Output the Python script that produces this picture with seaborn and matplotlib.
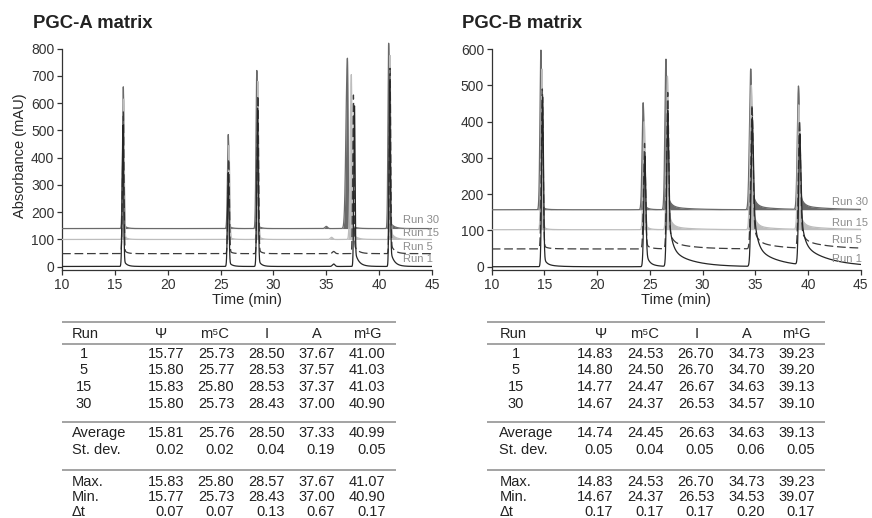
import numpy as np
import pandas as pd
import matplotlib
matplotlib.use("Agg")
import matplotlib.pyplot as plt
import seaborn as sns

# ---------------- data ----------------
runs = ["Run 1", "Run 5", "Run 15", "Run 30"]
run_numbers = ["1", "5", "15", "30"]
compounds = ["Ψ", "m⁵C", "I", "A", "m¹G"]
stat_labels_1 = ["Average", "St. dev."]
stat_labels_2 = ["Max.", "Min.", "Δt"]

# ---- PGC-A matrix ----
rt_a_run1 = [15.77, 25.73, 28.50, 37.67, 41.00]
rt_a_run5 = [15.80, 25.77, 28.53, 37.57, 41.03]
rt_a_run15 = [15.83, 25.80, 28.53, 37.37, 41.03]
rt_a_run30 = [15.80, 25.73, 28.43, 37.00, 40.90]
apex_a_run1 = [520, 345, 582, 590, 682]
apex_a_run5 = [568, 395, 628, 630, 728]
apex_a_run15 = [615, 445, 680, 705, 775]
apex_a_run30 = [660, 485, 720, 765, 820]
offset_a = [1, 48, 100, 140]
minor_rt_a = [35.7, 35.7, 35.5, 35.0]
minor_h_a = [9, 8, 8, 8]
avg_a = [15.81, 25.76, 28.50, 37.33, 40.99]
sd_a = [0.02, 0.02, 0.04, 0.19, 0.05]
max_a = [15.83, 25.80, 28.57, 37.67, 41.07]
min_a = [15.77, 25.73, 28.43, 37.00, 40.90]
dt_a = [0.07, 0.07, 0.13, 0.67, 0.17]

# ---- PGC-B matrix ----
rt_b_run1 = [14.83, 24.53, 26.70, 34.73, 39.23]
rt_b_run5 = [14.80, 24.50, 26.70, 34.70, 39.20]
rt_b_run15 = [14.77, 24.47, 26.67, 34.63, 39.13]
rt_b_run30 = [14.67, 24.37, 26.53, 34.57, 39.10]
apex_b_run1 = [468, 305, 430, 410, 360]
apex_b_run5 = [490, 340, 480, 445, 400]
apex_b_run15 = [545, 400, 525, 500, 445]
apex_b_run30 = [597, 452, 572, 545, 497]
offset_b = [0, 49, 102, 157]
avg_b = [14.74, 24.45, 26.63, 34.63, 39.13]
sd_b = [0.05, 0.04, 0.05, 0.06, 0.05]
max_b = [14.83, 24.53, 26.70, 34.73, 39.23]
min_b = [14.67, 24.37, 26.53, 34.53, 39.07]
dt_b = [0.17, 0.17, 0.17, 0.20, 0.17]

# peak shape parameters (min)
sig_left_a = [0.075, 0.075, 0.075, 0.065, 0.065]
front_a = [1.0, 1.0, 1.6, 2.1]          # fronting of peak A per run
sig_right_a = [0.06, 0.065, 0.065, 0.05, 0.06]
tail_f_a = [0.05, 0.05, 0.05, 0.08, 0.08]
tail_tau_a = [0.25, 0.25, 0.25, 0.3, 0.3]
slow_a = [3, 3, 3, 18, 18]
slow_tau_a = [0.5, 0.5, 0.5, 0.5, 0.5]
tail_scale_a = [1.0, 0.6, 0.5, 0.5]

sig_left_b = [0.09, 0.1, 0.1, 0.12, 0.11]
front_b = [1.0, 1.0, 1.0, 1.0]
sig_right_b = [0.08, 0.09, 0.09, 0.1, 0.1]
tail_f_b = [0.06, 0.15, 0.32, 0.45, 0.4]
tail_tau_b = [0.25, 0.25, 0.3, 0.3, 0.3]
slow_b = [8, 12, 52, 60, 60]
slow_tau_b = [1.0, 0.8, 2.0, 2.0, 2.5]
tail_scale_b = [1.0, 0.4, 0.4, 0.4]
slow_scale_b = [1.0, 0.4, 0.18, 0.18]

run_colors = ["#262626", "#3c3c3c", "#bdbdbd", "#6a6a6a"]
label_y_a = [28, 72, 123, 171]
label_y_b = [20, 75, 121, 179]

t = np.linspace(10, 45, 7001)


def trace(base, rts, apexes, sl, sr, tf, ttau, slow, stau, scale, sscale, front_idx=None,
          front=1.0, minor=None):
    y = np.full_like(t, float(base))
    for k, (rt, h) in enumerate(zip(rts, apexes)):
        d = t - rt
        s_l = sl[k] * (front if k == front_idx else 1.0)
        left = np.exp(-0.5 * (d / s_l) ** 2)
        dp = np.clip(d, 0, None)
        f = tf[k] * scale
        sa = slow[k] * sscale
        amp = h - base - sa
        right = (1 - f) * np.exp(-0.5 * (dp / sr[k]) ** 2) + f * np.exp(-dp / ttau[k])
        y += amp * np.where(d < 0, left, right)
        y += sa * np.where(d < 0, left, np.exp(-dp / stau[k]))
    if minor is not None:
        y += minor[1] * np.exp(-0.5 * ((t - minor[0]) / 0.12) ** 2)
    return y


sns.set_theme(style="ticks")
plt.rcParams["font.family"] = ["Liberation Sans", "DejaVu Sans"]
plt.rcParams["axes.edgecolor"] = "#333333"
plt.rcParams["xtick.color"] = "#333333"
plt.rcParams["ytick.color"] = "#333333"
plt.rcParams["text.color"] = "#222222"

fig = plt.figure(figsize=(8.72, 5.18), dpi=100)

# overlay for tables (pixel coordinates)
axt = fig.add_axes([0, 0, 1, 1])
axt.set_xlim(0, 872)
axt.set_ylim(518, 0)
axt.axis("off")

ax_a = fig.add_axes([62 / 872, 1 - 270 / 518, 370 / 872, (270 - 40.5) / 518])
ax_b = fig.add_axes([491.7 / 872, 1 - 270 / 518, 369 / 872, (270 - 43.6) / 518])

panels = [
    (ax_a, [rt_a_run1, rt_a_run5, rt_a_run15, rt_a_run30],
     [apex_a_run1, apex_a_run5, apex_a_run15, apex_a_run30], offset_a,
     (sig_left_a, sig_right_a, tail_f_a, tail_tau_a, slow_a, slow_tau_a, tail_scale_a,
      tail_scale_a, front_a),
     True, (-12, 830), 800, label_y_a),
    (ax_b, [rt_b_run1, rt_b_run5, rt_b_run15, rt_b_run30],
     [apex_b_run1, apex_b_run5, apex_b_run15, apex_b_run30], offset_b,
     (sig_left_b, sig_right_b, tail_f_b, tail_tau_b, slow_b, slow_tau_b, tail_scale_b,
      slow_scale_b, front_b),
     False, (-9, 615), 600, label_y_b),
]

for ax, rts, apx, offs, shape, has_minor, ylim, ytop, laby in panels:
    sl, sr, tf, ttau, slow, stau, tscale, sscale, front = shape
    for i in [3, 2, 1, 0]:
        minor = (minor_rt_a[i], minor_h_a[i]) if has_minor else None
        y = trace(offs[i], rts[i], apx[i], sl, sr, tf, ttau, slow, stau, tscale[i], sscale[i],
                  front_idx=3, front=front[i], minor=minor)
        df = pd.DataFrame({"time": t, "abs": y})
        if i >= 2:
            ax.fill_between(t, offs[i], y, color=run_colors[i], lw=0, zorder=2 * (4 - i))
        n_before = len(ax.lines)
        sns.lineplot(data=df, x="time", y="abs", ax=ax, color=run_colors[i], lw=0.9,
                     estimator=None, sort=False, zorder=2 * (4 - i) + 1)
        line = ax.lines[n_before]
        if i == 1:
            line.set_linestyle((0, (7, 3)))
        ax.text(42.3, laby[i], runs[i], color="#8c8c8c", fontsize=8, va="center", ha="left",
                zorder=20)
    ax.set_xlim(10, 45)
    ax.set_ylim(*ylim)
    ax.set_xticks(np.arange(10, 46, 5))
    ax.set_yticks(np.arange(0, ytop + 1, 100))
    ax.spines["left"].set_bounds(ylim[0], ytop)
    sns.despine(ax=ax)
    for s in ["left", "bottom"]:
        ax.spines[s].set_linewidth(0.9)
    ax.tick_params(direction="out", length=3.5, width=0.9, labelsize=10, pad=2)
    ax.set_xlabel("Time (min)", fontsize=10.5, labelpad=1)
    ax.set_ylabel("")
    ax.patch.set_alpha(0)

ax_a.set_ylabel("Absorbance (mAU)", fontsize=10.5, labelpad=3)

fig.text(33 / 872, 1 - 23 / 518, "PGC-A matrix", fontsize=13.3, fontweight="bold", va="center",
         ha="left", color="#222222")
fig.text(461.5 / 872, 1 - 23 / 518, "PGC-B matrix", fontsize=13.3, fontweight="bold",
         va="center", ha="left", color="#222222")

# ---------------- tables ----------------
tables = [
    dict(x0=62, x1=396, xrun=72, xnum=83.5, xr=[184, 234.3, 285, 335, 385.7],
         xh=[160.7, 214.7, 266.7, 317, 367],
         rows=[rt_a_run1, rt_a_run5, rt_a_run15, rt_a_run30],
         s1=[avg_a, sd_a], s2=[max_a, min_a, dt_a]),
    dict(x0=487, x1=825, xrun=499.3, xnum=515.5, xr=[613.3, 664, 714.3, 765, 815],
         xh=[600.7, 644, 696.7, 746.7, 796.7],
         rows=[rt_b_run1, rt_b_run5, rt_b_run15, rt_b_run30],
         s1=[avg_b, sd_b], s2=[max_b, min_b, dt_b]),
]
y_header = 333.5
y_rows = [354, 370.5, 387, 403.5]
y_s1 = [433, 450]
y_s2 = [482, 497, 511.5]
y_lines = [322.3, 344, 421.5, 469.5]
fs = 10.5
tc = "#222222"
for tb in tables:
    for yl in y_lines:
        axt.plot([tb["x0"], tb["x1"]], [yl, yl], color="#8a8a8a", lw=1.1, solid_capstyle="butt")
    axt.text(tb["xrun"], y_header, "Run", fontsize=fs, va="center", ha="left", color=tc)
    for xh, c in zip(tb["xh"], compounds):
        axt.text(xh, y_header, c, fontsize=fs, va="center", ha="center", color=tc)
    for yr, rn, vals in zip(y_rows, run_numbers, tb["rows"]):
        axt.text(tb["xnum"], yr, rn, fontsize=fs, va="center", ha="center", color=tc)
        for xr, v in zip(tb["xr"], vals):
            axt.text(xr, yr, f"{v:.2f}", fontsize=fs, va="center", ha="right", color=tc)
    for yr, lab, vals in zip(y_s1, stat_labels_1, tb["s1"]):
        axt.text(tb["xrun"], yr, lab, fontsize=fs, va="center", ha="left", color=tc)
        for xr, v in zip(tb["xr"], vals):
            axt.text(xr, yr, f"{v:.2f}", fontsize=fs, va="center", ha="right", color=tc)
    for yr, lab, vals in zip(y_s2, stat_labels_2, tb["s2"]):
        axt.text(tb["xrun"], yr, lab, fontsize=fs, va="center", ha="left", color=tc)
        for xr, v in zip(tb["xr"], vals):
            axt.text(xr, yr, f"{v:.2f}", fontsize=fs, va="center", ha="right", color=tc)

fig.savefig("out.png", dpi=100)
